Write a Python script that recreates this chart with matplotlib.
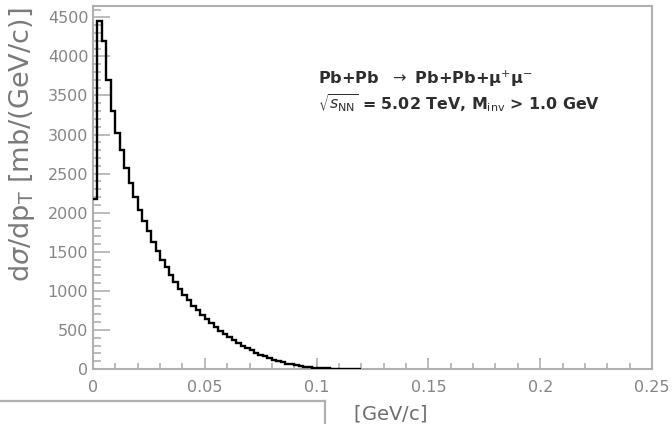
import numpy as np
import matplotlib
matplotlib.use("Agg")
import matplotlib.pyplot as plt
from matplotlib.patches import Rectangle
from matplotlib.lines import Line2D
from matplotlib.ticker import MultipleLocator, FixedLocator

# bin edges (GeV/c) and contents (mb/(GeV/c))
bin_width = 0.002
n_bins = 60
dsigma = [2180, 4450, 4200, 3700, 3300, 3020, 2800, 2570, 2380, 2200,
          2040, 1900, 1760, 1630, 1510, 1400, 1300, 1200, 1110, 1020,
          950, 880, 810, 750, 690, 640, 590, 540, 490, 450,
          410, 370, 335, 300, 270, 240, 210, 185, 160, 140,
          120, 100, 85, 70, 58, 46, 37, 29, 22, 17,
          13, 10, 7, 5, 4, 3, 2, 1, 1, 0]
edges = np.arange(n_bins + 1) * bin_width

x_ticks = [0, 0.05, 0.1, 0.15, 0.2, 0.25]
x_ticklabels = ["0", "0.05", "0.1", "0.15", "0.2", "0.25"]
y_ticks = [0, 500, 1000, 1500, 2000, 2500, 3000, 3500, 4000, 4500]
y_ticklabels = [str(v) for v in y_ticks]

W, H = 672, 424
fig = plt.figure(figsize=(W / 100, H / 100), dpi=100)
ax = fig.add_axes([93 / W, 1 - 369 / H, (652 - 93) / W, (369 - 6) / H])

ax.stairs(dsigma, edges, baseline=None, color="black", lw=1.7, zorder=3)

ax.set_xlim(0, 0.25)
ax.set_ylim(0, 4645)

frame_col = "#b0b0b0"
for s in ax.spines.values():
    s.set_color(frame_col)
    s.set_linewidth(1.5)

ax.xaxis.set_major_locator(FixedLocator(x_ticks))
ax.set_xticklabels(x_ticklabels)
ax.xaxis.set_minor_locator(MultipleLocator(0.01))
ax.yaxis.set_major_locator(FixedLocator(y_ticks))
ax.set_yticklabels(y_ticklabels)
ax.yaxis.set_minor_locator(MultipleLocator(100))

tick_lab_col = "#858585"
ax.tick_params(axis="x", which="major", direction="in", length=7.9, width=1.2,
               color=frame_col, labelsize=11.5, labelcolor=tick_lab_col,
               pad=8, top=False)
ax.tick_params(axis="x", which="minor", direction="in", length=4.0, width=1.2,
               color=frame_col, top=False)
ax.tick_params(axis="y", which="major", direction="in", length=12.2, width=1.2,
               color=frame_col, labelsize=11.5, labelcolor=tick_lab_col,
               pad=3.4, right=False)
ax.tick_params(axis="y", which="minor", direction="in", length=6.1, width=1.2,
               color=frame_col, right=False)

# y axis title (aligned to top like ROOT)
fig.text(22 / W, 1 - 8 / H, r"d$\sigma$/dp$_{\rm T}$ [mb/(GeV/c)]",
         rotation=90, ha="center", va="top", fontsize=19.5, color="#7a7a7a")

# annotations
ax.text(318 / W, 1 - 79 / H, r"Pb+Pb  $\rightarrow$ Pb+Pb+μ$^{+}$μ$^{-}$",
        transform=fig.transFigure, ha="left", va="center", fontsize=11.6,
        fontweight="bold", color="#2e2e2e")
ax.text(318 / W, 1 - 103 / H,
        r"$\sqrt{s_{\rm NN}}$ = 5.02 TeV, M$_{\rm inv}$ > 1.0 GeV",
        transform=fig.transFigure, ha="left", va="center", fontsize=11.4,
        fontweight="bold", color="#2e2e2e")

# x axis title
fig.text(427 / W, 1 - 414 / H, r"p$_{\rm T}$ [GeV/c]", ha="right",
         va="center", fontsize=14, color="#6e6e6e")

# overlapping white box at bottom-left
fig.patches.append(Rectangle((0, 0), 325 / W, (H - 401) / H,
                             transform=fig.transFigure, facecolor="white",
                             edgecolor="none", zorder=10))
fig.patches.append(Rectangle((325 / W, 0), 24 / W, (H - 401) / H,
                             transform=fig.transFigure, facecolor="white",
                             edgecolor="none", zorder=10))
fig.lines.append(Line2D([0, 325 / W], [(H - 401) / H, (H - 401) / H],
                        transform=fig.transFigure, color=frame_col, lw=1.6,
                        zorder=11))
fig.lines.append(Line2D([325 / W, 325 / W], [0, (H - 401) / H],
                        transform=fig.transFigure, color=frame_col, lw=1.6,
                        zorder=11))

fig.savefig("out.png", dpi=100)
